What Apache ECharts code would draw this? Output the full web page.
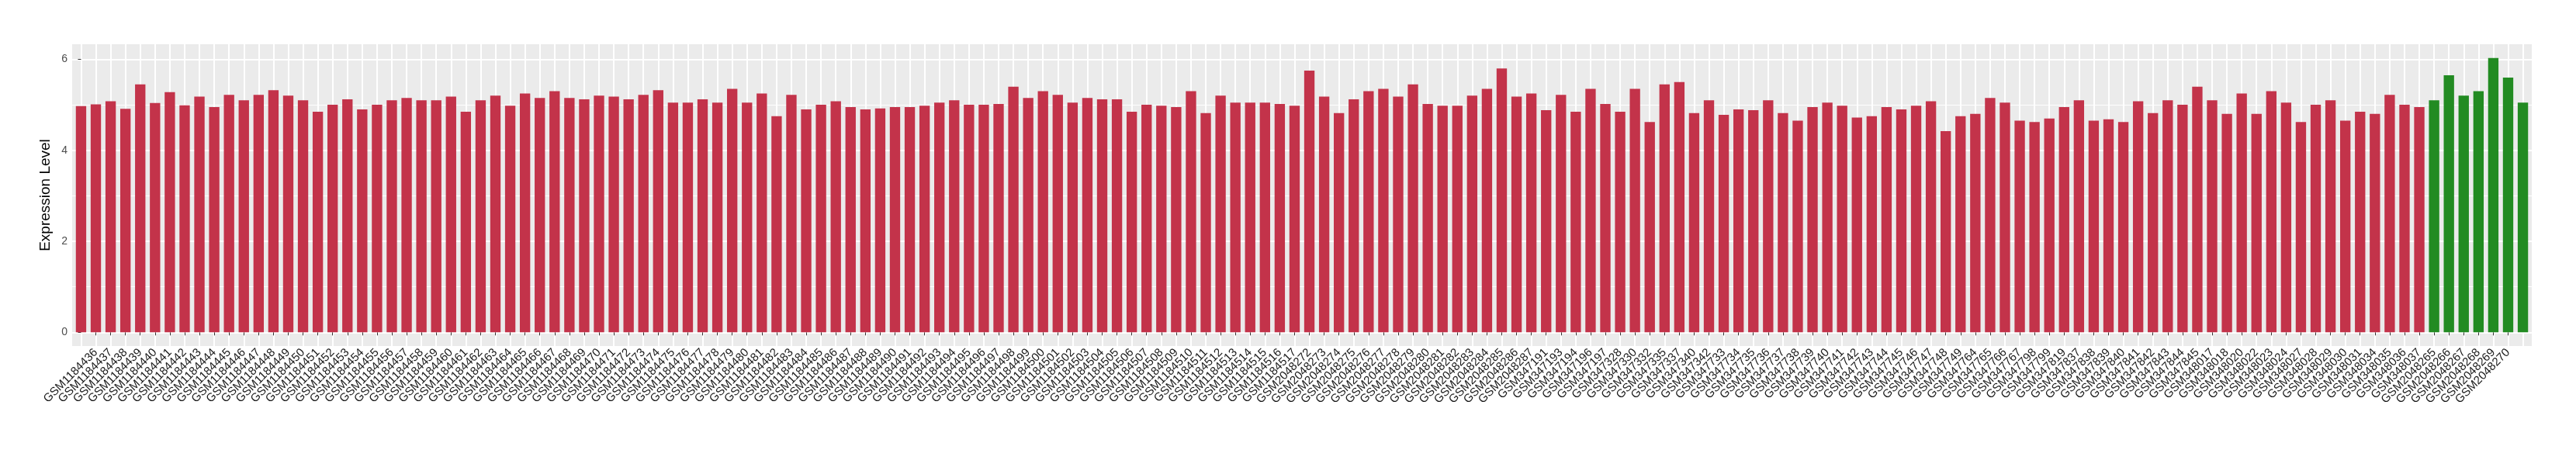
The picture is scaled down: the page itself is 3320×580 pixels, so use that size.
<!DOCTYPE html>
<html><head><meta charset="utf-8">
<script src="https://cdn.jsdelivr.net/npm/echarts@6/dist/echarts.min.js"></script>
<style>html,body{margin:0;padding:0;background:#fff}#c{width:3320px;height:580px}</style>
</head><body><div id="c"></div>
<script>
const categories = [
 "GSM1184435","GSM1184436","GSM1184437","GSM1184438","GSM1184439","GSM1184440","GSM1184441","GSM1184442","GSM1184443","GSM1184444",
 "GSM1184445","GSM1184446","GSM1184447","GSM1184448","GSM1184449","GSM1184450","GSM1184451","GSM1184452","GSM1184453","GSM1184454",
 "GSM1184455","GSM1184456","GSM1184457","GSM1184458","GSM1184459","GSM1184460","GSM1184461","GSM1184462","GSM1184463","GSM1184464",
 "GSM1184465","GSM1184466","GSM1184467","GSM1184468","GSM1184469","GSM1184470","GSM1184471","GSM1184472","GSM1184473","GSM1184474",
 "GSM1184475","GSM1184476","GSM1184477","GSM1184478","GSM1184479","GSM1184480","GSM1184481","GSM1184482","GSM1184483","GSM1184484",
 "GSM1184485","GSM1184486","GSM1184487","GSM1184488","GSM1184489","GSM1184490","GSM1184491","GSM1184492","GSM1184493","GSM1184494",
 "GSM1184495","GSM1184496","GSM1184497","GSM1184498","GSM1184499","GSM1184500","GSM1184501","GSM1184502","GSM1184503","GSM1184504",
 "GSM1184505","GSM1184506","GSM1184507","GSM1184508","GSM1184509","GSM1184510","GSM1184511","GSM1184512","GSM1184513","GSM1184514",
 "GSM1184515","GSM1184516","GSM1184517",
 "GSM2048272","GSM2048273","GSM2048274","GSM2048275","GSM2048276","GSM2048277","GSM2048278","GSM2048279","GSM2048280","GSM2048281",
 "GSM2048282","GSM2048283","GSM2048284","GSM2048285","GSM2048286","GSM2048287",
 "GSM347191","GSM347193","GSM347194","GSM347196","GSM347197","GSM347328","GSM347330","GSM347332","GSM347335","GSM347337",
 "GSM347340","GSM347342","GSM347733","GSM347734","GSM347735","GSM347736","GSM347737","GSM347738","GSM347739","GSM347740",
 "GSM347741","GSM347742","GSM347743","GSM347744","GSM347745","GSM347746","GSM347747","GSM347748","GSM347749","GSM347764",
 "GSM347765","GSM347766","GSM347767","GSM347798","GSM347799","GSM347819","GSM347837","GSM347838","GSM347839","GSM347840",
 "GSM347841","GSM347842","GSM347843","GSM347844","GSM347845","GSM348017","GSM348018","GSM348020","GSM348022","GSM348023",
 "GSM348024","GSM348027","GSM348028","GSM348029","GSM348030","GSM348031","GSM348034","GSM348035","GSM348036","GSM348037",
 "GSM2048265","GSM2048266","GSM2048267","GSM2048268","GSM2048269","GSM2048270","GSM2048271"
];
const values = [
 4.97,5.01,5.08,4.91,5.45,5.04,5.28,4.99,5.18,4.95,
 5.22,5.10,5.22,5.32,5.20,5.10,4.85,5.00,5.12,4.90,
 5.00,5.10,5.15,5.10,5.10,5.18,4.85,5.10,5.20,4.98,
 5.25,5.15,5.30,5.15,5.12,5.20,5.18,5.12,5.22,5.32,
 5.05,5.05,5.12,5.05,5.35,5.05,5.25,4.75,5.22,4.90,
 5.00,5.08,4.95,4.90,4.92,4.95,4.95,4.98,5.05,5.10,
 5.00,5.00,5.02,5.40,5.15,5.30,5.22,5.05,5.15,5.12,
 5.12,4.85,5.00,4.98,4.95,5.30,4.82,5.20,5.05,5.05,
 5.05,5.02,4.98,
 5.75,5.18,4.82,5.12,5.30,5.35,5.18,5.45,5.02,4.98,
 4.98,5.20,5.35,5.80,5.18,5.25,
 4.88,5.22,4.85,5.35,5.02,4.85,5.35,4.62,5.45,5.50,
 4.82,5.10,4.78,4.90,4.88,5.10,4.82,4.65,4.95,5.05,
 4.98,4.72,4.75,4.95,4.90,4.98,5.08,4.42,4.75,4.80,
 5.15,5.05,4.65,4.62,4.70,4.95,5.10,4.65,4.68,4.62,
 5.08,4.82,5.10,5.00,5.40,5.10,4.80,5.25,4.80,5.30,
 5.05,4.62,5.00,5.10,4.65,4.85,4.80,5.22,5.00,4.95,
 5.10,5.65,5.20,5.30,6.03,5.60,5.05
];
// group of each sample: first 159 are "control" (red), last 7 "case" (green)
const groupSizes = {control: 159, case: 7};
const yTicks = [0, 2, 4, 6];
const yMinor = [1, 3, 5];
const yTitle = "Expression Level";

const groupColor = {control: "#C3334A", case: "#228B22"};
const groups = [];
Object.keys(groupSizes).forEach(g => { for (let k = 0; k < groupSizes[g]; k++) groups.push(g); });

const maxV = Math.max(...values);
const yMin = -0.05 * maxV, yMax = 1.05 * maxV;
const idx = categories.map((_, i) => i);
const FONT = "Liberation Sans, Arial, sans-serif";

const chart = echarts.init(document.getElementById('c'), null, {renderer: 'canvas'});
chart.setOption({
  animation: false,
  backgroundColor: '#ffffff',
  grid: {left: 93, right: 57, top: 57, bottom: 134, show: true, backgroundColor: '#EBEBEB', borderWidth: 0},
  xAxis: {
    type: 'value', min: -0.6, max: categories.length - 1 + 0.6,
    axisLine: {show: false},
    axisTick: {show: true, customValues: idx, length: 4, lineStyle: {color: '#333333', width: 1}},
    axisLabel: {customValues: idx, formatter: v => categories[Math.round(v)], rotate: 45, margin: 6,
      color: '#1a1a1a', fontSize: 15, fontFamily: FONT},
    splitLine: {show: true, lineStyle: {color: '#ffffff', width: 2}}
  },
  yAxis: [{
    type: 'value', min: yMin, max: yMax,
    name: yTitle, nameLocation: 'middle', nameRotate: 90, nameGap: 22,
    nameTextStyle: {fontSize: 19, color: '#000000', fontFamily: FONT},
    axisLine: {show: false},
    axisTick: {show: true, customValues: yTicks, length: 4, lineStyle: {color: '#333333', width: 1}},
    axisLabel: {customValues: yTicks, margin: 6, color: '#4D4D4D', fontSize: 14, fontFamily: FONT},
    splitLine: {show: true, lineStyle: {color: '#ffffff', width: 2}}
  }, {
    type: 'value', min: yMin, max: yMax, position: 'left',
    axisLine: {show: false},
    axisTick: {show: false, customValues: yMinor},
    axisLabel: {show: false, customValues: yMinor},
    splitLine: {show: true, lineStyle: {color: '#ffffff', width: 1}}
  }],
  series: [{
    type: 'bar', barWidth: 13.35, yAxisIndex: 0,
    data: values.map((v, i) => ({value: [i, v], itemStyle: {color: groupColor[groups[i]]}})),
    z: 3
  }]
});
</script></body></html>
